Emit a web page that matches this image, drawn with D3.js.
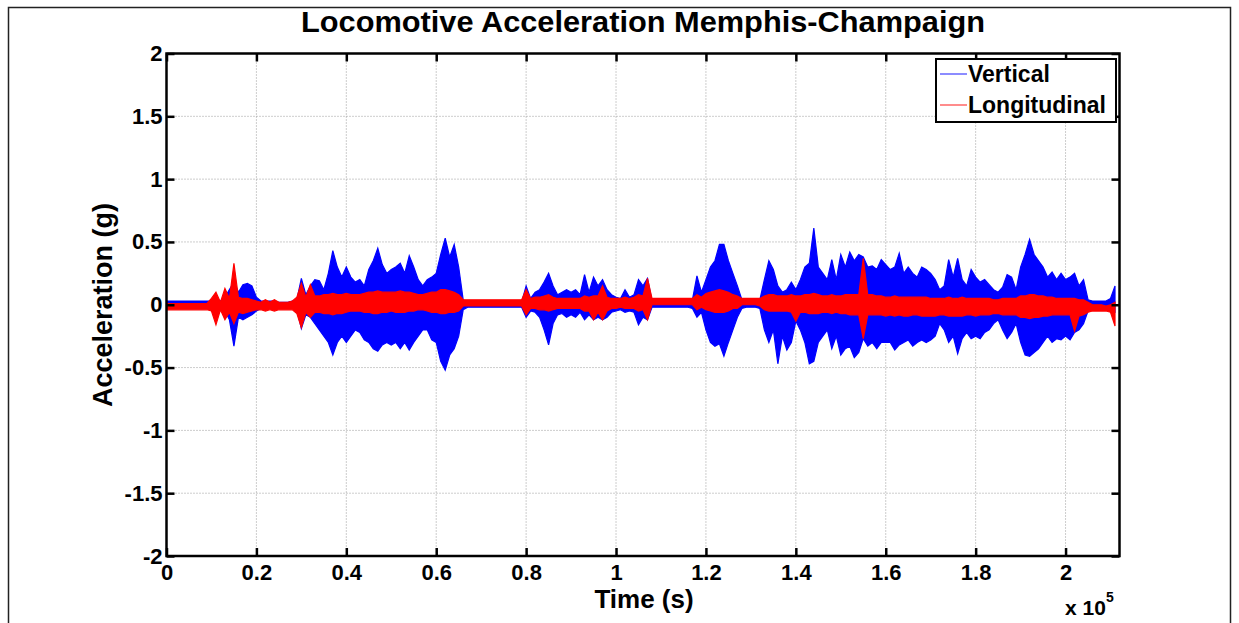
<!DOCTYPE html>
<html>
<head>
<meta charset="utf-8">
<title>Locomotive Acceleration Memphis-Champaign</title>
<script src="https://d3js.org/d3.v7.min.js"></script>
<style>
	body { margin: 0; background: #fff; }
	text { font-family: "Liberation Sans", Arial, sans-serif; font-weight: bold; }
</style>
</head>
<body>
<script type="text/javascript">
	// envelopes, one min/max pair every 1000 s
	var sampleStep = 1000;
	var vertMax = [
		.03,.03,.03,.03,.03,.03,.03,.03,.03,.03,
		.03,.04,.03,.06,.12,.18,.1,.16,.17,.15,
		.06,.03,.03,.03,.03,.02,.02,.02,.03,.04,
		.21,.08,.15,.2,.19,.12,.25,.43,.3,.22,
		.3,.22,.18,.2,.15,.28,.35,.45,.32,.25,
		.28,.3,.33,.25,.39,.3,.2,.15,.2,.22,
		.25,.4,.53,.38,.48,.3,.04,.02,.02,.02,
		.02,.02,.02,.02,.02,.02,.02,.02,.02,.02,
		.15,.05,.1,.12,.18,.25,.15,.08,.1,.12,
		.1,.12,.08,.24,.1,.22,.15,.2,.12,.08,
		.06,.05,.12,.06,.08,.2,.15,.21,.03,.03,
		.03,.03,.03,.03,.03,.03,.03,.04,.23,.1,
		.2,.3,.35,.48,.48,.35,.25,.15,.04,.03,
		.03,.03,.04,.2,.35,.28,.15,.1,.12,.18,
		.12,.2,.3,.33,.61,.3,.25,.2,.36,.2,
		.4,.3,.42,.35,.4,.38,.3,.31,.28,.36,
		.32,.28,.3,.41,.25,.3,.25,.22,.3,.28,
		.25,.2,.12,.15,.36,.22,.37,.2,.15,.28,
		.22,.18,.2,.16,.12,.1,.14,.24,.22,.12,
		.3,.4,.52,.4,.35,.3,.22,.26,.2,.25,
		.2,.22,.25,.15,.2,.04,.03,.03,.03,.03,.05,.15
	];
	var vertMin = [
		-.02,-.02,-.02,-.02,-.02,-.02,-.02,-.02,-.02,-.02,
		-.03,-.04,-.03,-.05,-.12,-.33,-.1,-.12,-.1,-.08,
		-.05,-.03,-.03,-.03,-.03,-.02,-.02,-.02,-.03,-.04,
		-.19,-.08,-.1,-.15,-.2,-.25,-.3,-.4,-.3,-.25,
		-.3,-.25,-.2,-.22,-.28,-.3,-.35,-.37,-.32,-.3,
		-.32,-.3,-.35,-.3,-.36,-.3,-.25,-.2,-.2,-.28,
		-.3,-.45,-.52,-.4,-.35,-.25,-.04,-.02,-.02,-.02,
		-.02,-.02,-.02,-.02,-.02,-.02,-.02,-.02,-.02,-.02,
		-.1,-.05,-.06,-.1,-.2,-.32,-.15,-.08,-.07,-.1,
		-.08,-.1,-.06,-.12,-.08,-.12,-.1,-.12,-.1,-.06,
		-.05,-.04,-.06,-.05,-.06,-.16,-.1,-.12,-.02,-.02,
		-.02,-.02,-.02,-.02,-.02,-.02,-.02,-.03,-.1,-.06,
		-.2,-.3,-.33,-.31,-.41,-.3,-.2,-.1,-.03,-.02,
		-.02,-.02,-.03,-.2,-.3,-.2,-.47,-.25,-.36,-.3,
		-.13,-.2,-.3,-.47,-.45,-.3,-.25,-.2,-.35,-.25,
		-.4,-.35,-.33,-.42,-.38,-.27,-.33,-.3,-.35,-.3,
		-.3,-.3,-.36,-.32,-.3,-.28,-.33,-.3,-.28,-.3,
		-.28,-.25,-.15,-.2,-.3,-.25,-.39,-.27,-.22,-.27,
		-.25,-.27,-.22,-.2,-.15,-.12,-.2,-.27,-.22,-.15,
		-.3,-.4,-.41,-.38,-.35,-.3,-.25,-.3,-.27,-.28,
		-.25,-.28,-.22,-.2,-.15,-.05,-.04,-.04,-.04,-.04,-.05,-.06
	];
	var longMax = [
		.01,.01,.01,.01,.01,.01,.01,.01,.01,.01,
		.05,.1,.02,.13,.05,.33,.06,.05,.05,.04,
		.03,.02,.04,.02,.04,.02,.02,.02,.03,.06,
		.17,.06,.16,.07,.07,.08,.08,.09,.08,.08,
		.09,.08,.08,.08,.09,.1,.1,.11,.1,.1,
		.1,.1,.11,.1,.1,.09,.08,.08,.09,.1,
		.1,.12,.12,.11,.1,.08,.04,.04,.04,.04,
		.04,.04,.04,.04,.04,.04,.04,.04,.04,.04,
		.12,.05,.06,.06,.07,.08,.06,.05,.05,.05,
		.05,.05,.05,.07,.06,.07,.07,.15,.06,.05,
		.05,.05,.06,.05,.06,.08,.07,.21,.05,.05,
		.05,.05,.05,.05,.05,.05,.05,.05,.08,.06,
		.09,.1,.11,.12,.11,.1,.08,.07,.05,.05,
		.05,.05,.05,.07,.08,.08,.07,.07,.07,.08,
		.07,.07,.08,.08,.09,.08,.07,.07,.08,.07,
		.07,.08,.08,.08,.08,.37,.08,.08,.07,.07,
		.06,.06,.07,.06,.06,.06,.06,.06,.06,.06,
		.05,.05,.05,.05,.06,.05,.05,.06,.05,.05,
		.05,.05,.05,.05,.04,.04,.05,.05,.05,.05,
		.07,.07,.08,.08,.07,.07,.06,.06,.05,.05,
		.05,.05,.05,.04,.04,.02,0,0,0,-.01,0,.02
	];
	var longMin = [
		-.04,-.04,-.04,-.04,-.04,-.04,-.04,-.04,-.04,-.04,
		-.05,-.16,-.04,-.12,-.06,-.15,-.06,-.07,-.06,-.05,
		-.04,-.04,-.05,-.04,-.05,-.04,-.04,-.04,-.04,-.07,
		-.18,-.06,-.1,-.06,-.06,-.07,-.07,-.08,-.07,-.07,
		-.06,-.05,-.05,-.05,-.06,-.06,-.07,-.07,-.06,-.06,
		-.05,-.06,-.06,-.06,-.05,-.05,-.04,-.04,-.05,-.06,
		-.06,-.07,-.07,-.06,-.06,-.05,-.01,-.01,-.01,-.01,
		-.01,-.01,-.01,-.01,-.01,-.01,-.01,-.01,-.01,-.01,
		-.08,-.03,-.03,-.04,-.04,-.05,-.04,-.03,-.03,-.03,
		-.03,-.03,-.03,-.05,-.05,-.12,-.06,-.12,-.05,-.03,
		-.03,-.02,-.03,-.03,-.03,-.05,-.04,-.12,0,0,
		0,0,0,0,0,0,0,0,-.04,-.02,
		-.04,-.05,-.06,-.06,-.06,-.05,-.03,-.03,0,0,
		0,0,-.01,-.04,-.05,-.05,-.05,-.05,-.05,-.06,
		-.13,-.06,-.06,-.07,-.07,-.07,-.06,-.06,-.07,-.06,
		-.07,-.07,-.08,-.08,-.08,-.27,-.08,-.08,-.08,-.08,
		-.09,-.08,-.09,-.08,-.09,-.09,-.08,-.08,-.09,-.09,
		-.09,-.09,-.08,-.08,-.09,-.09,-.09,-.09,-.08,-.08,
		-.09,-.08,-.08,-.08,-.07,-.07,-.08,-.08,-.08,-.08,
		-.1,-.1,-.11,-.1,-.1,-.09,-.09,-.08,-.08,-.08,
		-.08,-.08,-.21,-.09,-.08,-.06,-.05,-.05,-.05,-.05,-.06,-.17
	];
	var xTicks = [0, 20000, 40000, 60000, 80000, 100000, 120000, 140000, 160000, 180000, 200000];
	var yTicks = [-2, -1.5, -1, -0.5, 0, 0.5, 1, 1.5, 2];
	var seriesNames = ['Vertical', 'Longitudinal'];
	var seriesColors = ['#0000ff', '#ff0000'];
	var legendColors = ['#8c8cff', '#ff8c8c'];

	var width = 1239;
	var height = 623;
	var box = {left: 166.5, right: 1119.5, top: 53.5, bottom: 556};

	var x = d3.scaleLinear().domain([0, 212000]).range([box.left, box.right]);
	var y = d3.scaleLinear().domain([-2, 2]).range([box.bottom, box.top]);

	var svg = d3.select('body').append('svg')
		.attr('width', width)
		.attr('height', height);

	svg.append('rect')
		.attr('width', width).attr('height', height)
		.attr('fill', '#fff');
	// outer figure frame
	svg.append('rect')
		.attr('x', 8.5).attr('y', 7.5)
		.attr('width', 1222).attr('height', 700)
		.attr('fill', 'none')
		.attr('stroke', '#222')
		.attr('stroke-width', 1.5);

	// dotted grid
	var grid = svg.append('g').attr('stroke', '#9a9a9a').attr('stroke-width', 1).attr('stroke-dasharray', '1,2');
	grid.selectAll('.vgrid').data(xTicks.slice(1)).enter().append('line')
		.attr('x1', function(d) { return x(d); }).attr('x2', function(d) { return x(d); })
		.attr('y1', box.top).attr('y2', box.bottom);
	grid.selectAll('.hgrid').data(yTicks.slice(1, -1)).enter().append('line')
		.attr('y1', function(d) { return y(d); }).attr('y2', function(d) { return y(d); })
		.attr('x1', box.left).attr('x2', box.right);

	svg.append('clipPath').attr('id', 'plotclip').append('rect')
		.attr('x', box.left).attr('y', box.top)
		.attr('width', box.right - box.left).attr('height', box.bottom - box.top);

	var band = d3.area()
		.x(function(d, i) { return x(i * sampleStep); })
		.y0(function(d) { return y(d[0]); })
		.y1(function(d) { return y(d[1]); });

	var series = [d3.zip(vertMin, vertMax), d3.zip(longMin, longMax)];
	svg.append('g').attr('clip-path', 'url(#plotclip)')
		.selectAll('path').data(series).enter().append('path')
		.attr('d', band)
		.attr('fill', function(d, i) { return seriesColors[i]; })
		.attr('stroke', function(d, i) { return seriesColors[i]; })
		.attr('stroke-width', 1.2)
		.attr('stroke-linejoin', 'miter');

	// axes, MATLAB style ticks pointing inwards
	function styleAxis(g) {
		g.select('.domain').remove();
		g.selectAll('line').attr('stroke', '#000').attr('stroke-width', 2.5);
		g.selectAll('text').attr('fill', '#000').style('font-size', '22px');
	}
	svg.append('g').attr('transform', 'translate(0,' + box.bottom + ')')
		.call(d3.axisBottom(x).tickValues(xTicks).tickSizeInner(-8).tickSizeOuter(0).tickPadding(8)
			.tickFormat(function(d) { return String(+(d / 1e5).toFixed(1)); }))
		.call(styleAxis);
	svg.append('g').attr('transform', 'translate(0,' + box.top + ')')
		.call(d3.axisTop(x).tickValues(xTicks).tickSizeInner(-8).tickSizeOuter(0).tickFormat(''))
		.call(styleAxis);
	svg.append('g').attr('transform', 'translate(' + box.left + ',0)')
		.call(d3.axisLeft(y).tickValues(yTicks).tickSizeInner(-8).tickSizeOuter(0).tickPadding(4)
			.tickFormat(function(d) { return String(d); }))
		.call(styleAxis);
	svg.append('g').attr('transform', 'translate(' + box.right + ',0)')
		.call(d3.axisRight(y).tickValues(yTicks).tickSizeInner(-8).tickSizeOuter(0).tickFormat(''))
		.call(styleAxis);

	svg.append('rect')
		.attr('x', box.left).attr('y', box.top)
		.attr('width', box.right - box.left).attr('height', box.bottom - box.top)
		.attr('fill', 'none').attr('stroke', '#000').attr('stroke-width', 2.5);

	// titles
	svg.append('text')
		.attr('x', 643).attr('y', 32)
		.attr('text-anchor', 'middle')
		.attr('textLength', 684)
		.attr('lengthAdjust', 'spacingAndGlyphs')
		.style('font-size', '29px')
		.text('Locomotive Acceleration Memphis-Champaign');
	svg.append('text')
		.attr('x', 644).attr('y', 608)
		.attr('text-anchor', 'middle')
		.style('font-size', '26px')
		.text('Time (s)');
	svg.append('text')
		.attr('transform', 'translate(112,305) rotate(-90)')
		.attr('text-anchor', 'middle')
		.style('font-size', '27px')
		.text('Acceleration (g)');
	var expo = svg.append('text').attr('x', 1065).attr('y', 615).style('font-size', '21px');
	expo.append('tspan').text('x 10');
	expo.append('tspan').attr('dy', -13).style('font-size', '14px').text('5');

	// legend
	var legend = svg.append('g').attr('transform', 'translate(936,59)');
	legend.append('rect')
		.attr('width', 180).attr('height', 63)
		.attr('fill', '#fff').attr('stroke', '#000').attr('stroke-width', 2);
	var item = legend.selectAll('.item').data(seriesNames).enter().append('g')
		.attr('transform', function(d, i) { return 'translate(0,' + (15 + i * 31) + ')'; });
	item.append('line')
		.attr('x1', 4).attr('x2', 31)
		.attr('stroke', function(d, i) { return legendColors[i]; })
		.attr('stroke-width', 2);
	item.append('text')
		.attr('x', 32).attr('y', 8)
		.style('font-size', '23px')
		.text(function(d) { return d; });
</script>
</body>
</html>
